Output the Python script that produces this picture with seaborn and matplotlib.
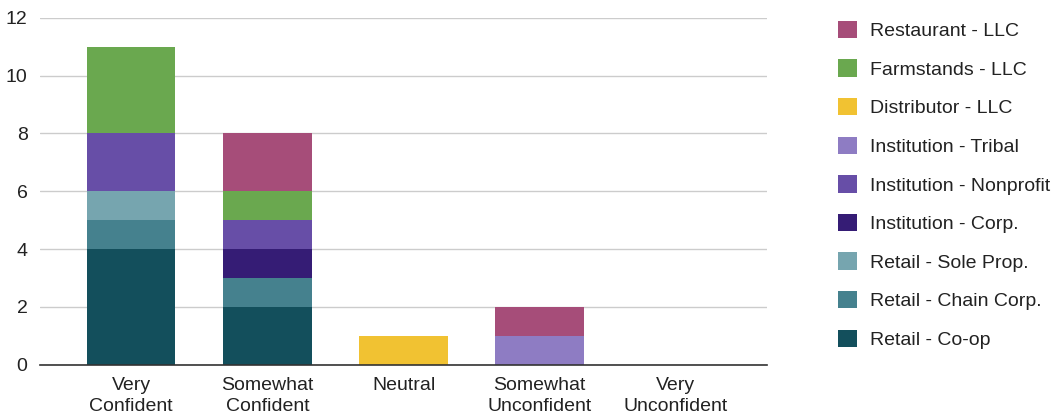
import matplotlib
matplotlib.use("Agg")
import matplotlib.pyplot as plt
from matplotlib.patches import Patch
import numpy as np
import seaborn as sns

categories = ["Very\nConfident", "Somewhat\nConfident", "Neutral", "Somewhat\nUnconfident", "Very\nUnconfident"]
series_names = ["Retail - Co-op", "Retail - Chain Corp.", "Retail - Sole Prop.",
                "Institution - Corp.", "Institution - Nonprofit", "Institution - Tribal",
                "Distributor - LLC", "Farmstands - LLC", "Restaurant - LLC"]
retail_coop = [4, 2, 0, 0, 0]
retail_chain = [1, 1, 0, 0, 0]
retail_sole = [1, 0, 0, 0, 0]
inst_corp = [0, 1, 0, 0, 0]
inst_nonprofit = [2, 1, 0, 0, 0]
inst_tribal = [0, 0, 0, 1, 0]
distributor = [0, 0, 1, 0, 0]
farmstands = [3, 1, 0, 0, 0]
restaurant = [0, 2, 0, 1, 0]
series_values = [retail_coop, retail_chain, retail_sole, inst_corp, inst_nonprofit,
                 inst_tribal, distributor, farmstands, restaurant]
colors = ["#134F5C", "#45818E", "#76A5AF", "#351C75", "#674EA7",
          "#8E7CC3", "#F1C232", "#6AA84F", "#A64D79"]
y_ticks = [0, 2, 4, 6, 8, 10, 12]

sns.set_theme(style="white")
plt.rcParams["font.family"] = ["Liberation Sans", "DejaVu Sans"]

FS = 14.0

fig = plt.figure(figsize=(10.57, 4.19), dpi=100)
ax = fig.add_axes([40 / 1057, (419 - 364.5) / 419, (767 - 40) / 1057, (364.5 - 18) / 419])

bottom = np.zeros(len(categories))
for name, vals, col in zip(series_names, series_values, colors):
    v = np.array(vals, dtype=float)
    sns.barplot(x=categories, y=v, bottom=bottom, color=col, width=0.65,
                linewidth=0, ax=ax, saturation=1)
    bottom = bottom + v

ax.set_xlim(-0.67, 4.67)
ax.set_ylim(0, 12)
ax.set_yticks(y_ticks)
ax.set_yticklabels([str(t) for t in y_ticks])
ax.yaxis.grid(True, color="#CCCCCC", linewidth=1)
ax.xaxis.grid(False)
ax.set_axisbelow(True)
for s in ["top", "right", "left"]:
    ax.spines[s].set_visible(False)
ax.spines["bottom"].set_color("#333333")
ax.spines["bottom"].set_linewidth(1.2)
ax.spines["bottom"].set_zorder(5)
ax.tick_params(axis="both", length=0, labelsize=FS, colors="#222222")
ax.tick_params(axis="y", pad=9)
ax.tick_params(axis="x", pad=9)
for lbl in ax.get_xticklabels():
    lbl.set_linespacing(1.28)
ax.set_xlabel("")
ax.set_ylabel("")

handles = [Patch(facecolor=c, edgecolor="none", label=n) for n, c in zip(series_names, colors)][::-1]
leg = fig.legend(handles=handles, loc="upper left", bbox_to_anchor=(830 / 1057, 1 - 13 / 419),
                 frameon=False, fontsize=FS, handlelength=1.0, handleheight=1.0,
                 handletextpad=0.68, labelspacing=0.99, borderaxespad=0)
for t in leg.get_texts():
    t.set_color("#222222")

fig.savefig("out.png", dpi=100)
